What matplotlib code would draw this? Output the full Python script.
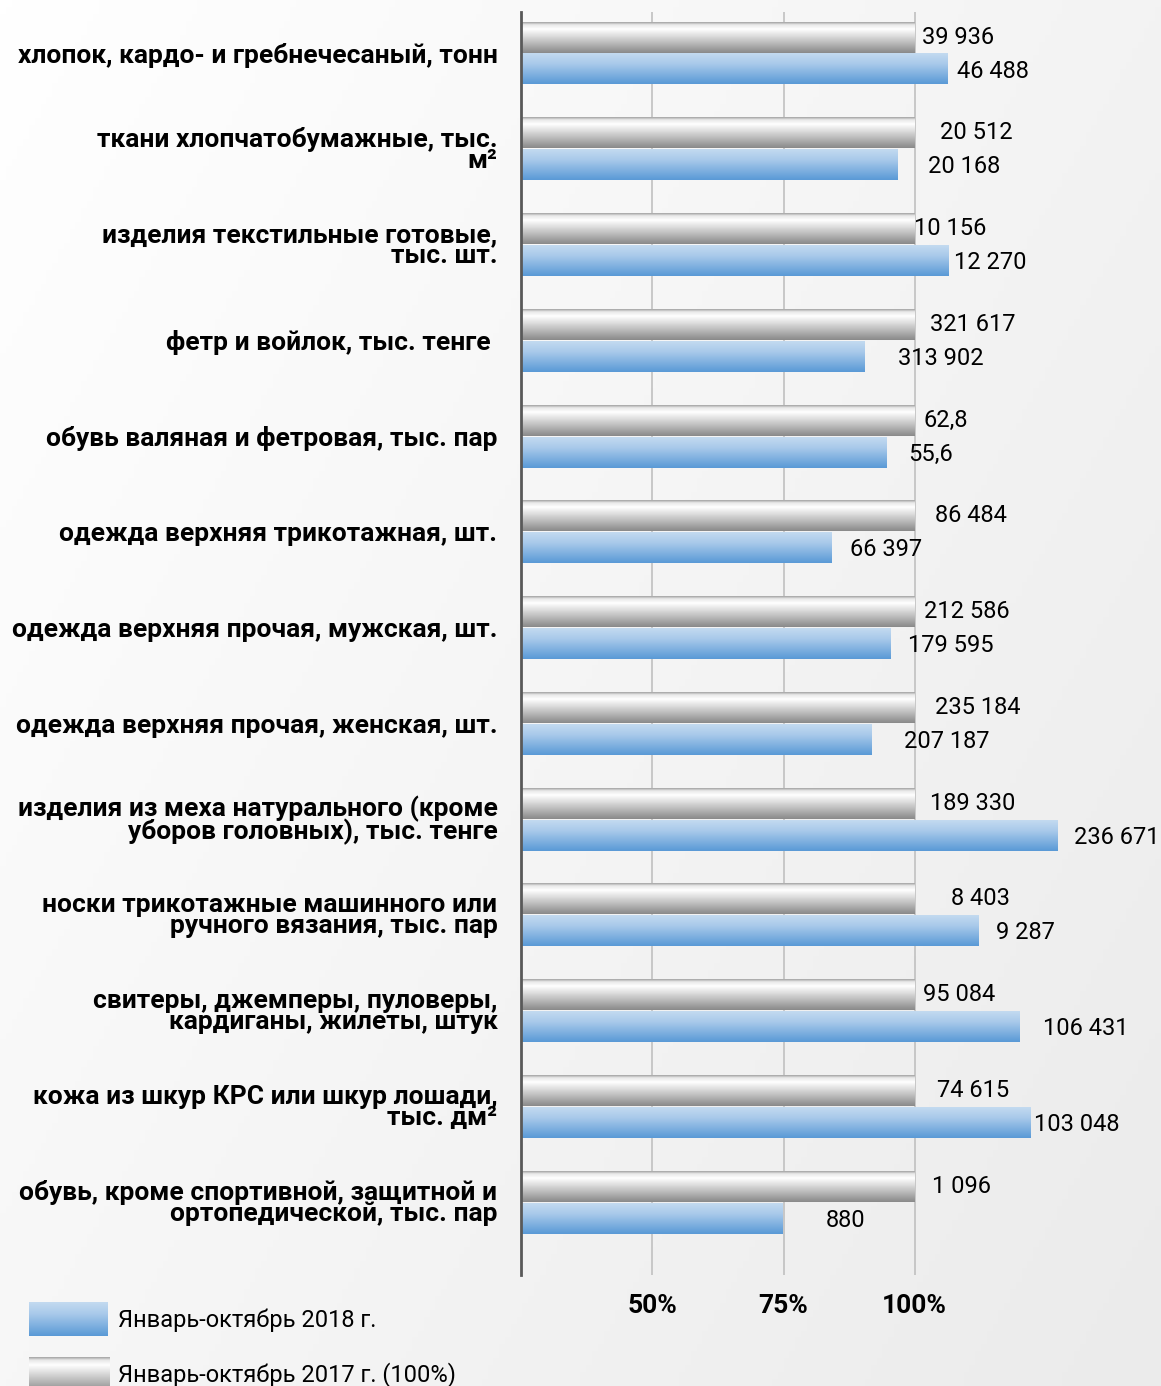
import numpy as np
import matplotlib
matplotlib.use('Agg')
import matplotlib.pyplot as plt
from matplotlib.colors import LinearSegmentedColormap

categories = [
    'хлопок, кардо- и гребнечесаный, тонн',
    'ткани хлопчатобумажные, тыс.\nм²',
    'изделия текстильные готовые,\nтыс. шт.',
    'фетр и войлок, тыс. тенге ',
    'обувь валяная и фетровая, тыс. пар',
    'одежда верхняя трикотажная, шт.',
    'одежда верхняя прочая, мужская, шт.',
    'одежда верхняя прочая, женская, шт.',
    'изделия из меха натурального (кроме\nуборов головных), тыс. тенге',
    'носки трикотажные машинного или\nручного вязания, тыс. пар',
    'свитеры, джемперы, пуловеры,\nкардиганы, жилеты, штук',
    'кожа из шкур КРС или шкур лошади,\nтыс. дм²',
    'обувь, кроме спортивной, защитной и\nортопедической, тыс. пар',
]
labels_2017 = ['39 936', '20 512', '10 156', '321 617', '62,8', '86 484', '212 586',
               '235 184', '189 330', '8 403', '95 084', '74 615', '1 096']
labels_2018 = ['46 488', '20 168', '12 270', '313 902', '55,6', '66 397', '179 595',
               '207 187', '236 671', '9 287', '106 431', '103 048', '880']
# bar lengths as drawn in the original (percent of 2017)
pct_2017 = [100] * 13
pct_2018 = [106.3, 96.8, 106.5, 90.5, 94.7, 84.2, 95.3, 91.7, 127.1, 112.2, 120.0, 122.0, 74.9]

# manual label nudges (pixels right of bar end), like the original
dx_2017 = [7, 25, -1, 15, 9, 20, 9, 20, 15, 36, 8, 22, 17]
dx_2018 = [9, 30, 5, 33, 21, 18, 18, 33, 17, 17, 23, 4, 43]

fam = ['Roboto', 'DejaVu Sans']

gray_cmap = LinearSegmentedColormap.from_list('gr', [
    (0, '#a6a6a6'), (0.08, '#e8e8e8'), (0.22, '#ffffff'), (0.6, '#c6c6c6'), (1, '#8a8a8a')])
blue_cmap = LinearSegmentedColormap.from_list('bl', [
    (0, '#c3daf0'), (0.35, '#a8c9ea'), (1, '#5a9ad6')])

fig = plt.figure(figsize=(11.61, 13.86), dpi=100)

# light diagonal background
bg = fig.add_axes([0, 0, 1, 1], zorder=-5)
xx, yy = np.meshgrid(np.linspace(0, 1, 200), np.linspace(0, 1, 200))
bg.imshow(0.6 * xx + 0.4 * yy, cmap=LinearSegmentedColormap.from_list('bg', ['#ffffff', '#ebebeb']),
          aspect='auto', extent=[0, 1, 0, 1], origin='upper')
bg.axis('off')

ax = fig.add_axes([521 / 1161, 1 - 1275 / 1386, 640 / 1161, 1263 / 1386])
ax.patch.set_alpha(0)

y = np.arange(len(categories))
h = 0.32

def grad_bars(ys, widths, cmap):
    grad = np.linspace(0, 1, 64).reshape(-1, 1)
    bars = ax.barh(ys, [w - 25 for w in widths], left=25, height=h, color='none', zorder=2)
    for b in bars:
        x0, y0, w, hh = b.get_x(), b.get_y(), b.get_width(), b.get_height()
        ax.imshow(grad, cmap=cmap, aspect='auto', origin='upper',
                  extent=[x0, x0 + w, y0 + hh, y0], zorder=2)
    return bars

grad_bars(y - 0.167, pct_2017, gray_cmap)
grad_bars(y + 0.167, pct_2018, blue_cmap)

for i in range(len(categories)):
    ax.annotate(labels_2017[i], (pct_2017[i], y[i] - 0.167), xytext=(dx_2017[i], 0),
                textcoords='offset pixels', va='center', ha='left', fontsize=17, family=fam)
    ax.annotate(labels_2018[i], (pct_2018[i], y[i] + 0.167), xytext=(dx_2018[i], -2),
                textcoords='offset pixels', va='center', ha='left', fontsize=17, family=fam)

ax.set_xlim(25, 25 + 640 / 5.25)
ax.set_ylim(12.76, -0.43)
ax.set_xticks([50, 75, 100])
ax.set_xticklabels(['50%', '75%', '100%'], fontsize=19, fontweight='bold', family=fam)
ax.tick_params(axis='x', length=0, pad=14)
ax.grid(axis='x', color='#c0c0c0', linewidth=1.2, zorder=0)
ax.set_axisbelow(True)

ax.set_yticks(y)
ax.set_yticklabels(categories, fontsize=19, fontweight='bold', family=fam, linespacing=0.82)
ax.tick_params(axis='y', length=0, pad=17)

for s in ['top', 'right', 'bottom']:
    ax.spines[s].set_visible(False)
ax.spines['left'].set_color('#595959')
ax.spines['left'].set_linewidth(2)

# legend drawn by hand
leg = fig.add_axes([0, 0, 1, 1], zorder=-1)
leg.axis('off')
grad = np.linspace(0, 1, 64).reshape(-1, 1)
leg.imshow(grad, cmap=blue_cmap, aspect='auto', origin='upper', extent=[29, 108, 1336, 1302])
leg.imshow(grad, cmap=gray_cmap, aspect='auto', origin='upper', extent=[29, 110, 1392, 1357])
leg.set_xlim(0, 1161)
leg.set_ylim(1386, 0)
leg.text(118, 1320, 'Январь-октябрь 2018 г.', fontsize=17, family=fam, va='center')
leg.text(118, 1375, 'Январь-октябрь 2017 г. (100%)', fontsize=17, family=fam, va='center')

fig.savefig('out.png', dpi=100)
